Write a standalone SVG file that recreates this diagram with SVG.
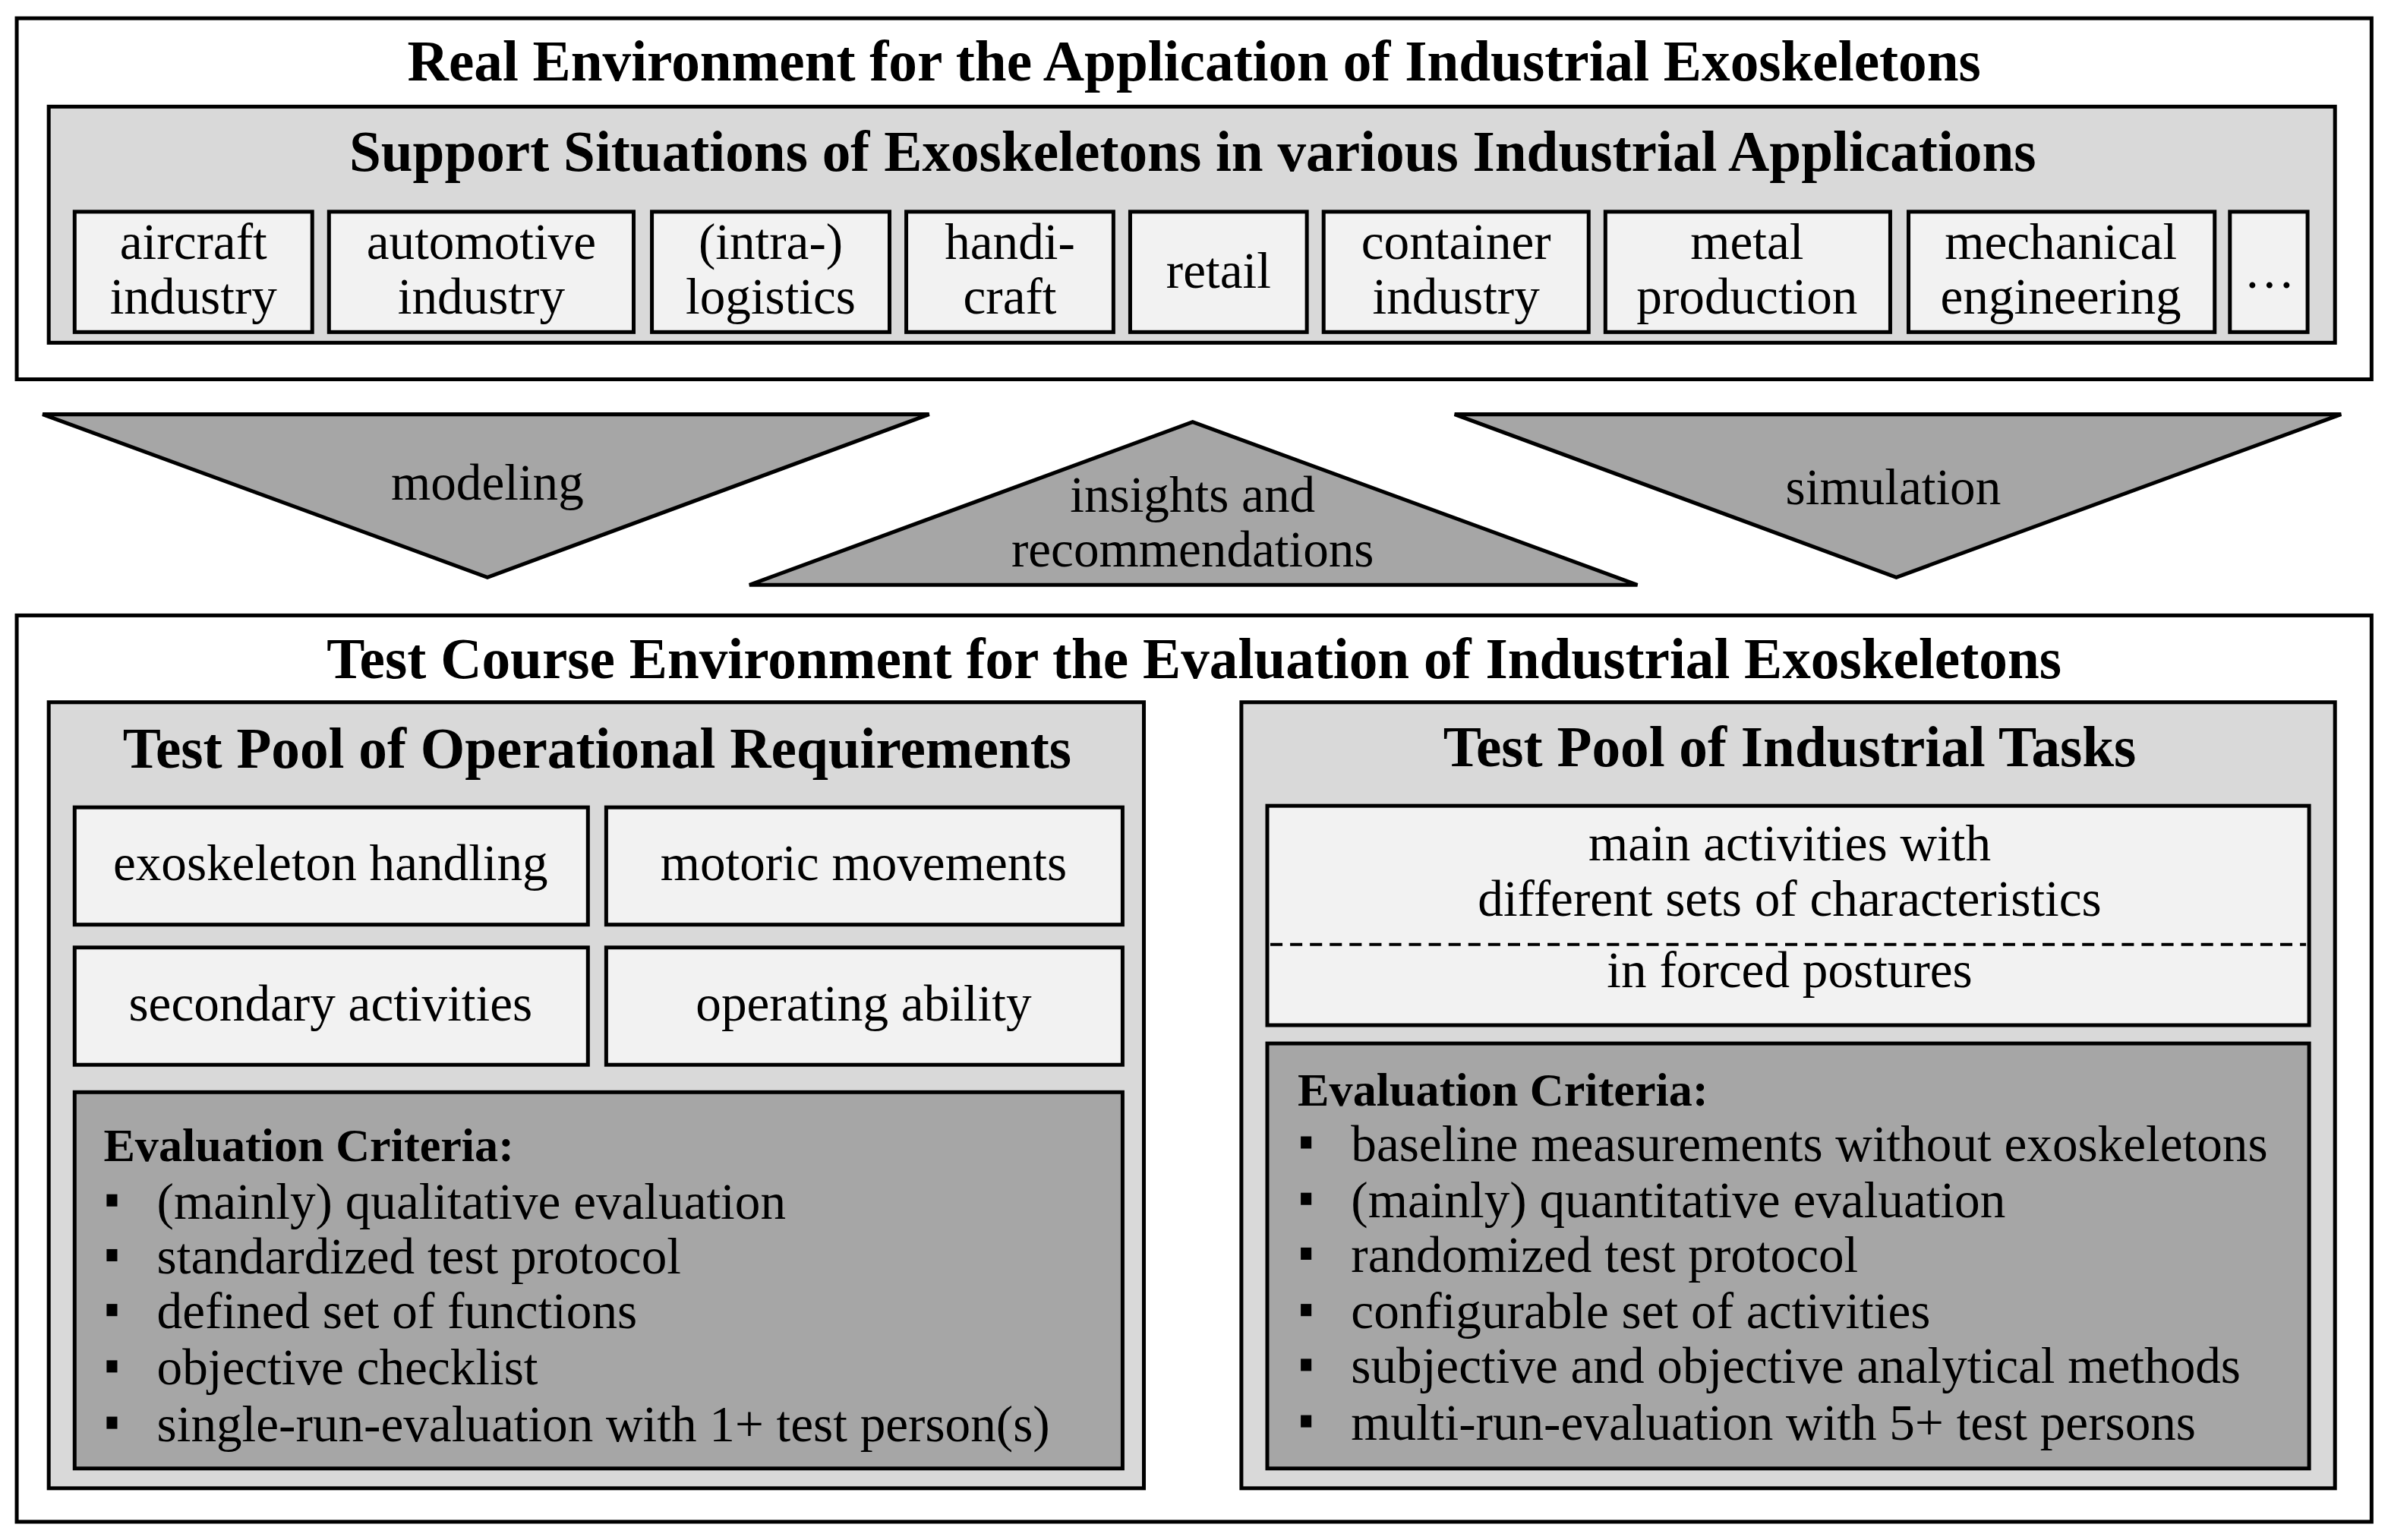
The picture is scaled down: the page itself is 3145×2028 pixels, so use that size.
<svg xmlns="http://www.w3.org/2000/svg" width="3145" height="2028" viewBox="0 0 3145 2028">
<style>
text{font-family:"Liberation Serif","Times New Roman",serif;fill:#000}
.t{font-weight:bold;font-size:37.5px;text-anchor:middle}
.s{font-size:33.5px;text-anchor:middle}
.b{font-size:33.5px}
.h{font-weight:bold;font-size:31px}
.box{stroke:#000;stroke-width:2.5}
.w{fill:#fff}.l{fill:#d9d9d9}.p{fill:#f2f2f2}.d{fill:#a6a6a6}
</style>
<rect width="3145" height="2028" fill="#fff"/>
<g transform="scale(2.006)">
<g id="real">
<rect class="box w" x="11" y="12" width="1546" height="237"/>
<text class="t" x="784" y="53">Real Environment for the Application of Industrial Exoskeletons</text>
</g>
<g id="support">
<rect class="box l" x="32" y="70" width="1501" height="155"/>
<text class="t" x="783" y="112">Support Situations of Exoskeletons in various Industrial Applications</text>
</g>
<g id="aircraft"><rect class="box p" x="49" y="139" width="156" height="79"/><text class="s" x="127" y="170">aircraft</text><text class="s" x="127" y="206">industry</text></g>
<g id="automotive"><rect class="box p" x="216" y="139" width="200" height="79"/><text class="s" x="316" y="170">automotive</text><text class="s" x="316" y="206">industry</text></g>
<g id="logistics"><rect class="box p" x="428" y="139" width="156" height="79"/><text class="s" x="506" y="170">(intra-)</text><text class="s" x="506" y="206">logistics</text></g>
<g id="handicraft"><rect class="box p" x="595" y="139" width="136" height="79"/><text class="s" x="663" y="170">handi-</text><text class="s" x="663" y="206">craft</text></g>
<g id="retail"><rect class="box p" x="742" y="139" width="116" height="79"/><text class="s" x="800" y="189">retail</text></g>
<g id="container"><rect class="box p" x="869" y="139" width="174" height="79"/><text class="s" x="956" y="170">container</text><text class="s" x="956" y="206">industry</text></g>
<g id="metal"><rect class="box p" x="1054" y="139" width="187" height="79"/><text class="s" x="1147" y="170">metal</text><text class="s" x="1147" y="206">production</text></g>
<g id="mechanical"><rect class="box p" x="1253" y="139" width="201" height="79"/><text class="s" x="1353" y="170">mechanical</text><text class="s" x="1353" y="206">engineering</text></g>
<g id="more"><rect class="box p" x="1464" y="139" width="51" height="79"/><text class="s" x="1490" y="189">…</text></g>
<g id="connectors">
<polygon class="box d" points="28,272 610,272 320,379"/>
<text class="s" x="320" y="328">modeling</text>
<polygon class="box d" points="492,384 1075,384 783,277"/>
<text class="s" x="783" y="336">insights and</text>
<text class="s" x="783" y="372">recommendations</text>
<polygon class="box d" points="955,272 1537,272 1245,379"/>
<text class="s" x="1243" y="331">simulation</text>
<polygon class="box d" points="764,537 807,707 764,873"/>
</g>
<g id="testcourse">
<rect class="box w" x="11" y="404" width="1546" height="595"/>
<text class="t" x="784" y="445">Test Course Environment for the Evaluation of Industrial Exoskeletons</text>
</g>
<g id="poolOps">
<rect class="box l" x="32" y="461" width="719" height="516"/>
<text class="t" x="392" y="504">Test Pool of Operational Requirements</text>
</g>
<g id="handling"><rect class="box p" x="49" y="530" width="337" height="77"/><text class="s" x="217" y="578">exoskeleton handling</text></g>
<g id="motoric"><rect class="box p" x="398" y="530" width="339" height="77"/><text class="s" x="567" y="578">motoric movements</text></g>
<g id="secondary"><rect class="box p" x="49" y="622" width="337" height="77"/><text class="s" x="217" y="670">secondary activities</text></g>
<g id="operating"><rect class="box p" x="398" y="622" width="339" height="77"/><text class="s" x="567" y="670">operating ability</text></g>
<g id="evalLeft">
<rect class="box d" x="49" y="717" width="688" height="247"/>
<text class="h" x="68" y="762">Evaluation Criteria:</text>
<g fill="#000"><rect x="70" y="784" width="7" height="8"/><rect x="70" y="820" width="7" height="8"/><rect x="70" y="856" width="7" height="8"/><rect x="70" y="893" width="7" height="8"/><rect x="70" y="930" width="7" height="8"/></g>
<text class="b" x="103" y="800">(mainly) qualitative evaluation</text>
<text class="b" x="103" y="836">standardized test protocol</text>
<text class="b" x="103" y="872">defined set of functions</text>
<text class="b" x="103" y="909">objective checklist</text>
<text class="b" x="103" y="946">single-run-evaluation with 1+ test person(s)</text>
</g>
<g id="poolTasks">
<rect class="box l" x="815" y="461" width="718" height="516"/>
<text class="t" x="1175" y="503">Test Pool of Industrial Tasks</text>
</g>
<g id="mainActivities">
<rect class="box p" x="832" y="529" width="684" height="144"/>
<line x1="834" y1="620" x2="1514" y2="620" stroke="#000" stroke-width="2" stroke-dasharray="8,5"/>
<text class="s" x="1175" y="565">main activities with</text>
<text class="s" x="1175" y="601">different sets of characteristics</text>
<text class="s" x="1175" y="648">in forced postures</text>
</g>
<g id="evalRight">
<rect class="box d" x="832" y="685" width="684" height="279"/>
<text class="h" x="852" y="726">Evaluation Criteria:</text>
<g fill="#000"><rect x="854" y="746" width="7" height="8"/><rect x="854" y="783" width="7" height="8"/><rect x="854" y="819" width="7" height="8"/><rect x="854" y="856" width="7" height="8"/><rect x="854" y="892" width="7" height="8"/><rect x="854" y="929" width="7" height="8"/></g>
<text class="b" x="887" y="762">baseline measurements without exoskeletons</text>
<text class="b" x="887" y="799">(mainly) quantitative evaluation</text>
<text class="b" x="887" y="835">randomized test protocol</text>
<text class="b" x="887" y="872">configurable set of activities</text>
<text class="b" x="887" y="908">subjective and objective analytical methods</text>
<text class="b" x="887" y="945">multi-run-evaluation with 5+ test persons</text>
</g>
</g>
</svg>
